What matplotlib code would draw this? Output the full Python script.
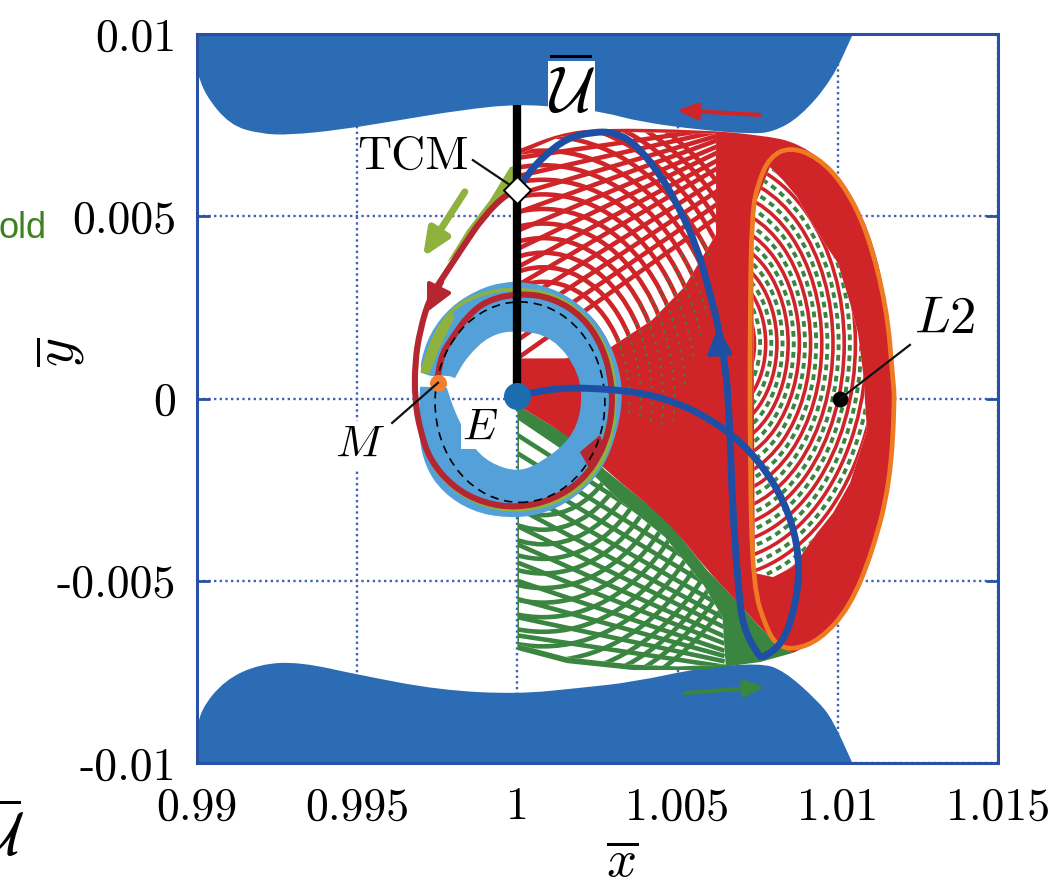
import matplotlib
matplotlib.use('Agg')
import matplotlib.pyplot as plt
import numpy as np
from matplotlib.patches import Polygon, Ellipse, PathPatch
from matplotlib.path import Path

plt.rcParams['mathtext.fontset'] = 'cm'
plt.rcParams['axes.unicode_minus'] = False

# all regions below: x-1 and y in units of 1e-3
top_x = [-11, -10, -9.75, -8.97, -8.03, -7.1, -5.54, -3.66, -1.79, 0, 1.64, 2.67, 3.83, 5.7, 7.26, 7.98, 8.82, 9.82, 10.47, 11]
top_y = [11, 9.01, 8.33, 7.5, 7.26, 7.23, 7.37, 7.64, 7.91, 8.08, 7.97, 7.86, 7.59, 7.37, 7.26, 7.31, 7.72, 8.74, 10, 11]
bot_x = [-11, -10, -9.9, -9.13, -8.03, -6.78, -4.92, -2.42, 0, 1.95, 3.61, 5.7, 7.57, 8.29, 9.35, 9.85, 10.45, 11]
bot_y = [-11, -9.23, -8.55, -7.72, -7.28, -7.23, -7.59, -8.0, -8.11, -7.94, -7.78, -7.39, -7.26, -7.45, -8.27, -8.82, -10, -11]

red_x = [0, 0, 0, 1.33, 2.58, 5.7, 7.57, 8.82, 10.07, 11.0, 11.53, 11.72, 11.78, 11.63, 11.1, 10.38, 9.44, 8.6, 8.6, 8.1, 7.57, 6.73, 5.92, 4.67, 2.73, 1.8, 0, 0, 0]
red_y = [6.82, 6.82, 6.82, 7.28, 7.42, 7.37, 7.23, 7.01, 6.13, 4.62, 2.7, 0.51, -0.59, -2.32, -4.16, -5.72, -6.63, -6.98, -6.98, -6.76, -6.27, -5.45, -4.71, -3.33, -1.96, -1.14, -0.18, -0.18, -0.18]
red_mesh_x = [0.05, 1.33, 2.58, 6.2, 6.2, 5.2, 4.2, 2.9, 1.5, 0.05]
red_mesh_y = [6.7, 7.18, 7.32, 7.27, 4.5, 3.05, 2.15, 1.4, 1.1, 1.1]

green_x = [0, 1.8, 2.73, 4.67, 5.92, 6.73, 7.57, 8.1, 8.6, 7.57, 5.7, 3.61, 1.55, 0]
green_y = [-0.18, -1.14, -1.96, -3.33, -4.71, -5.45, -6.27, -6.76, -6.98, -7.23, -7.45, -7.45, -7.26, -6.9]
green_mesh_x = [0.05, 1.9, 3.2, 4.6, 5.8, 6.4, 6.5, 5.0, 3.6, 1.55, 0.05]
green_mesh_y = [-0.6, -1.7, -2.8, -3.8, -5.1, -6.0, -7.3, -7.35, -7.3, -7.1, -6.75]

mesh_a = [2.0, 2.35, 2.7, 3.05, 3.4, 3.75, 4.1, 4.45, 4.8, 5.15, 5.5, 5.85, 6.2, 6.55, 6.9, 7.25, 7.6]
mesh_b = [2.4, 2.8, 3.2, 3.6, 4.0, 4.4, 4.8, 5.2, 5.6, 6.0, 6.4, 6.8, 7.2, 7.6, 7.9, 8.2, 8.5]
fan_red = [6.6, 6.1, 5.6, 5.1, 4.6, 4.1, 3.6, 3.1, 2.6, 2.1, 1.6, 1.1]
fan_red_end = [7.45, 7.4, 7.3, 7.2, 7.05, 6.9, 6.7, 6.5, 6.2, 5.9, 5.55, 5.2]
fan_green = [-1.0, -1.5, -2.0, -2.5, -3.0, -3.5, -4.0, -4.5, -5.0, -5.5, -6.0, -6.5]
fan_green_end = [-4.6, -5.0, -5.35, -5.7, -6.0, -6.25, -6.5, -6.7, -6.9, -7.05, -7.2, -7.35]

dots_x = [2.89, 3.83, 5.23, 6.01, 6.07, 5.39, 4.77, 3.52, 3.2]
dots_y = [1.33, 2.57, 4.07, 4.62, 2.7, 0.78, -0.86, -0.59, 0]

orbit_x = [8.51, 9.35, 10.16, 10.91, 11.53, 11.72, 11.78, 11.63, 11.1, 10.38, 9.44, 8.6, 8.1, 7.79, 7.35, 7.26, 7.26, 7.32, 7.51, 7.88]
orbit_y = [6.9, 6.63, 5.91, 4.62, 2.51, 0.51, -0.04, -2.32, -4.16, -5.72, -6.63, -6.9, -6.76, -6.35, -5.17, -1.77, 2.35, 5.09, 5.91, 6.63]
lat_x = [7.35, 7.88, 8.29, 8.73, 9.13, 9.66, 10.0, 10.38, 10.63, 10.79, 10.91, 10.38, 9.85, 9.35, 8.6, 7.98, 7.41]
lat_y = [5.17, 6.35, 5.99, 5.53, 4.9, 4.16, 3.72, 2.62, 1.8, 0.7, -0.86, -2.32, -3.14, -3.69, -4.62, -4.9, -4.79]
lat_a = [1.2, 1.55, 1.9, 2.25, 2.6, 2.95, 3.3, 3.65, 4.0, 4.35, 4.7, 5.05, 5.4]
lat_b = [1.52, 1.97, 2.41, 2.86, 3.3, 3.75, 4.19, 4.64, 5.08, 5.52, 5.97, 6.41, 6.86]

ring_x = [-2.98, -3.04, -2.73, -2.1, -1.26, -0.45, 0.3, 1.24, 2.05, 2.67, 3.11, 3.3, 3.14, 2.67, 1.74, 0.71, -0.32, -1.39, -2.32, -2.88, -3.1, -3.04, -3.04, -2.73, -2.2, -2.2, -2.01, -1.73, -1.39, -0.86, 0, 0.71, 1.64, 2.02, 1.95, 1.11, 0, -0.86, -1.58, -1.95, -1.95, -2.2, -2.63, -2.98]
ring_y = [0.7, 0.97, 1.8, 2.51, 2.98, 3.2, 3.2, 2.98, 2.51, 1.88, 1.06, 0.15, -0.86, -1.96, -2.78, -3.2, -3.28, -3.11, -2.59, -1.88, -0.95, 0.32, 0.32, 0.32, 0.29, 0.29, -0.23, -0.78, -1.33, -1.77, -2.02, -1.77, -1.14, -0.32, 0.7, 1.69, 1.88, 1.74, 1.14, 0.56, 0.56, 0.64, 0.59, 0.7]

olive_x = [-2.98, -2.73, -2.1, -1.17, 0, 1.24, 2.27, 2.95, 3.08, 2.89, 2.27, 1.24, 0, -1.17, -2.1, -2.79, -3.04]
olive_y = [0.7, 1.52, 2.43, 2.89, 3.03, 2.84, 2.15, 1.06, -0.04, -1.33, -2.24, -2.87, -3.11, -2.92, -2.43, -1.69, -0.86]
wedge_x = [0, -0.23, -0.86, -1.57, -2.2, -1.7, -1.07, 0]
wedge_y = [6.4, 6.35, 5.44, 4.62, 3.72, 4.16, 4.98, 5.72]
cres1_x = [-2.98, -2.73, -2.1, -1.95, -2.42, -2.73]
cres1_y = [0.7, 1.52, 2.35, 2.24, 1.41, 0.7]
cres2_x = [3.11, 2.89, 2.27, 2.05, 2.58, 2.83]
cres2_y = [-0.51, -1.33, -2.15, -2.05, -1.33, -0.51]
bump_x = [1.95, 2.58, 2.73, 2.27]
bump_y = [-1.47, -1.0, -1.41, -1.96]

crim_x = [0, -0.32, -1.07, -1.7, -2.32, -2.73, -3.04, -3.2, -3.2, -3.04, -2.73, -2.01, -1.07, 0, 1.11, 2.05, 2.67, 2.95, 2.95, 2.67, 2.05, 1.11, 0.08, -0.95, -1.58, -2.01, -2.42, -2.51]
crim_y = [5.72, 5.64, 4.98, 4.16, 3.33, 2.78, 1.88, 0.97, -0.04, -0.86, -1.69, -2.43, -2.87, -3.0, -2.78, -2.24, -1.41, -0.51, 0.43, 1.41, 2.24, 2.76, 2.89, 2.7, 2.24, 1.69, 1.14, 0.43]

traj_x = [0, 0.3, 0.8, 1.55, 2.36, 2.98, 3.61, 4.36, 4.98, 5.61, 6.01, 6.32, 6.54, 6.57, 6.64, 6.7, 6.89, 7.04, 7.51, 7.67, 8.29, 8.67, 8.82, 8.6, 7.98, 7.04, 5.92, 4.98, 3.83, 1.74, 0.49, 0]
traj_y = [5.72, 6.13, 6.63, 7.15, 7.31, 7.31, 7.04, 6.27, 5.36, 4.16, 2.89, 1.8, 0.51, -0.04, -0.95, -2.78, -5.17, -6.27, -7.04, -7.12, -6.71, -5.72, -4.62, -3.42, -2.24, -1.22, -0.51, -0.12, 0.18, 0.32, 0.18, 0.07]

x_ticks = [0.99, 0.995, 1, 1.005, 1.01, 1.015]
x_labels = ['0.99', '0.995', '1', '1.005', '1.01', '1.015']
y_ticks = [-0.01, -0.005, 0, 0.005, 0.01]
y_labels = ['-0.01', '-0.005', '0', '0.005', '0.01']

C_BLUE = '#2B6CB5'
C_RED = '#CF2529'
C_GREEN = '#3A8540'
C_LIGHT = '#53A1D8'
C_OLIVE = '#8FB23E'
C_CRIM = '#B52730'
C_ORANGE = '#EE7A22'
C_TRAJ = '#1F4FA5'
C_AXIS = '#2A50A5'


def pts(xs, ys):
    return np.column_stack([1 + np.array(xs) * 1e-3, np.array(ys) * 1e-3])


# quadratic curve through the read points, so the outlines are not angular
def smooth(xs, ys, closed=True):
    p = pts(xs, ys)
    if closed:
        mids = (p + np.roll(p, -1, axis=0)) / 2
        verts = [mids[-1]]
        for a, m in zip(p, mids):
            verts += [a, m]
    else:
        verts = [p[0]]
        for i in range(1, len(p) - 2):
            verts += [p[i], (p[i] + p[i + 1]) / 2]
        verts += [p[-2], p[-1]]
    codes = [Path.MOVETO] + [Path.CURVE3] * (len(verts) - 1)
    return Path(verts, codes)


def region(xs, ys, color, z):
    p = Polygon(pts(xs, ys), closed=True, facecolor=color, edgecolor='none', zorder=z)
    ax.add_patch(p)
    return p


def blob(xs, ys, color, z):
    p = PathPatch(smooth(xs, ys), facecolor=color, edgecolor='none', zorder=z)
    ax.add_patch(p)
    return p


def curve(xs, ys, color, lw, z, closed=False):
    p = PathPatch(smooth(xs, ys, closed), facecolor='none', edgecolor=color, linewidth=lw, zorder=z)
    ax.add_patch(p)
    return p


def rings(cx, cy, aa, bb, clip, color, lw, z, **kw):
    for a, b in zip(aa, bb):
        e = Ellipse((1 + cx * 1e-3, cy * 1e-3), 2 * a * 1e-3, 2 * b * 1e-3, fill=False,
                    edgecolor=color, linewidth=lw, zorder=z, **kw)
        ax.add_patch(e)
        e.set_clip_path(clip)


def arrow(x0, y0, x1, y1, color, lw, hl, hw, z=9):
    xy0 = pts([x0], [y0])[0]
    xy1 = pts([x1], [y1])[0]
    ax.annotate('', xy=xy1, xytext=xy0, zorder=z,
                arrowprops=dict(arrowstyle='-|>,head_length=%g,head_width=%g' % (hl, hw),
                                color=color, lw=lw, shrinkA=0, shrinkB=0))


fig = plt.figure(figsize=(10.57, 8.88), dpi=100)
ax = fig.add_axes([197 / 1057, 1 - 763 / 888, 801 / 1057, 729 / 888])
ax.set_xlim(0.99, 1.015)
ax.set_ylim(-0.01, 0.01)

ax.set_xticks(x_ticks)
ax.set_xticklabels(x_labels, family='cmr10', fontsize=33)
ax.set_yticks(y_ticks)
ax.set_yticklabels(y_labels, family='cmr10', fontsize=33)
ax.tick_params(direction='in', length=9, width=2, color=C_AXIS, top=True, right=True, pad=15)
ax.tick_params(axis='x', pad=17)
ax.grid(True, color='#3F63B8', linestyle=(0, (1, 1.4)), linewidth=1.7)
ax.set_axisbelow(True)
for s in ax.spines.values():
    s.set_color(C_AXIS)
    s.set_linewidth(2.2)

# forbidden regions
blob(top_x, top_y, C_BLUE, 2)
blob(bot_x, bot_y, C_BLUE, 2)

# lower manifold, then the upper one over it
region(green_x, green_y, C_GREEN, 3)
clip = region(green_mesh_x, green_mesh_y, 'white', 3.1)
rings(0.8, 0, mesh_a, mesh_b, clip, C_GREEN, 3.3, 3.2)
for y0, y1 in zip(fan_green, fan_green_end):
    line, = ax.plot(*pts([0, 6.4], [y0, y1]).T, color=C_GREEN, lw=3.3, zorder=3.2)
    line.set_clip_path(clip)

blob(red_x, red_y, C_RED, 4)
clip = region(red_mesh_x, red_mesh_y, 'white', 4.1)
rings(0.8, 0, mesh_a, mesh_b, clip, C_RED, 3.3, 4.2)
for y0, y1 in zip(fan_red, fan_red_end):
    line, = ax.plot(*pts([0, 6.6], [y0, y1]).T, color=C_RED, lw=3.3, zorder=4.2)
    line.set_clip_path(clip)

clip = region(dots_x, dots_y, 'none', 4.3)
rings(0.8, 0, mesh_a, mesh_b, clip, C_GREEN, 1.3, 4.3, linestyle=(0, (1.5, 3)))

# periodic orbit with its lattice
clip = region(lat_x, lat_y, 'white', 5)
rings(6.2, 1.5, lat_a, lat_b, clip, C_RED, 2.6, 5.2)
rings(6.2, 1.5, [a + 0.175 for a in lat_a], [b + 0.22 for b in lat_b], clip, C_GREEN, 2.8, 5.1, linestyle=(0, (1.5, 1.2)))
curve(orbit_x, orbit_y, C_ORANGE, 3.4, 5.5, closed=True)

# rings around the Earth
blob(ring_x, ring_y, C_LIGHT, 6)
curve(olive_x, olive_y, C_OLIVE, 2.6, 6.1)
region(wedge_x, wedge_y, C_OLIVE, 6.1)
region(cres1_x, cres1_y, C_OLIVE, 6.1)
region(cres2_x, cres2_y, C_OLIVE, 6.1)
arrow(-1.64, 5.67, -2.95, 3.88, C_OLIVE, 5.0, 1.6, 0.7)
curve(crim_x, crim_y, C_CRIM, 4.4, 6.3)
region(bump_x, bump_y, C_CRIM, 6.3)
ax.add_patch(Ellipse((1 + 0.08e-3, -0.1e-3), 5.3e-3, 5.5e-3, fill=False, edgecolor='black',
                     linewidth=1.2, linestyle=(0, (5, 3.5)), zorder=6.5))

ax.plot([1, 1], [0.00805, 0], color='black', lw=6.0, solid_capstyle='butt', zorder=7)
curve(traj_x, traj_y, C_TRAJ, 5.0, 7.5)

arrow(7.57, 7.78, 4.98, 7.91, C_RED, 3.0, 1.2, 0.5)
arrow(5.23, -8.08, 7.72, -7.91, C_GREEN, 3.0, 1.2, 0.5)
arrow(-2.35, 3.2, -2.82, 2.37, C_CRIM, 3.0, 1.6, 0.8)
arrow(6.32, 1.2, 6.26, 1.96, C_TRAJ, 3.0, 1.6, 0.75)

# points and labels
ax.scatter([1], [0.00007], s=380, color='#1B6DB0', zorder=8, linewidths=0)
ax.scatter(*pts([-2.48], [0.43]).T, s=150, color='#F08030', zorder=8, linewidths=0, marker='o')
ax.scatter(*pts([10.07], [-0.01]).T, s=130, color='black', zorder=8, linewidths=0)
ax.scatter(*pts([0], [5.72]).T, s=190, marker='D', facecolor='white', edgecolor='black', linewidths=1.4, zorder=9)

for start, end in [((-1.39, 6.54), (0, 5.72)), ((-3.91, -0.67), (-2.48, 0.43)), ((12.25, 1.47), (10.07, -0.01))]:
    ax.plot(*pts([start[0], end[0]], [start[1], end[1]]).T, color='#111111', lw=1.6, zorder=8.5)

ax.text(*pts([-3.26], [6.63])[0], 'TCM', family='cmr10', fontsize=34, ha='center', va='center', zorder=10)
ax.text(*pts([13.35], [2.21])[0], r'$L{\rm 2}$', fontsize=38, ha='center', va='center', zorder=10)
ax.text(*pts([-4.91], [-1.27])[0], r'$M$', fontsize=33, ha='center', va='center', zorder=8.2,
        bbox=dict(facecolor='white', edgecolor='none', pad=1))
ax.text(*pts([-1.17], [-0.78])[0], r'$E$', fontsize=32, ha='center', va='center', zorder=8.2,
        bbox=dict(facecolor='white', edgecolor='none', pad=0.5))
ax.text(*pts([1.7], [8.35])[0], r'$\overline{\mathcal{U}}$', fontsize=46, ha='center', va='center', zorder=7.2,
        bbox=dict(facecolor='white', edgecolor='none', pad=0))

fig.text(60 / 1057, 1 - 352 / 888, r'$\overline{y}$', fontsize=40, rotation=90, ha='center', va='center')
fig.text(622 / 1057, 1 - 862 / 888, r'$\overline{x}$', fontsize=38, ha='center', va='center')
fig.text(47 / 1057, 1 - 228 / 888, 'old', fontsize=26, color='#3F8020', family='Liberation Sans', ha='right', va='center')
fig.text(24 / 1057, 1 - 838 / 888, r'$\overline{\mathcal{U}}$', fontsize=44, ha='right', va='center')

fig.savefig('out.png', dpi=100)
